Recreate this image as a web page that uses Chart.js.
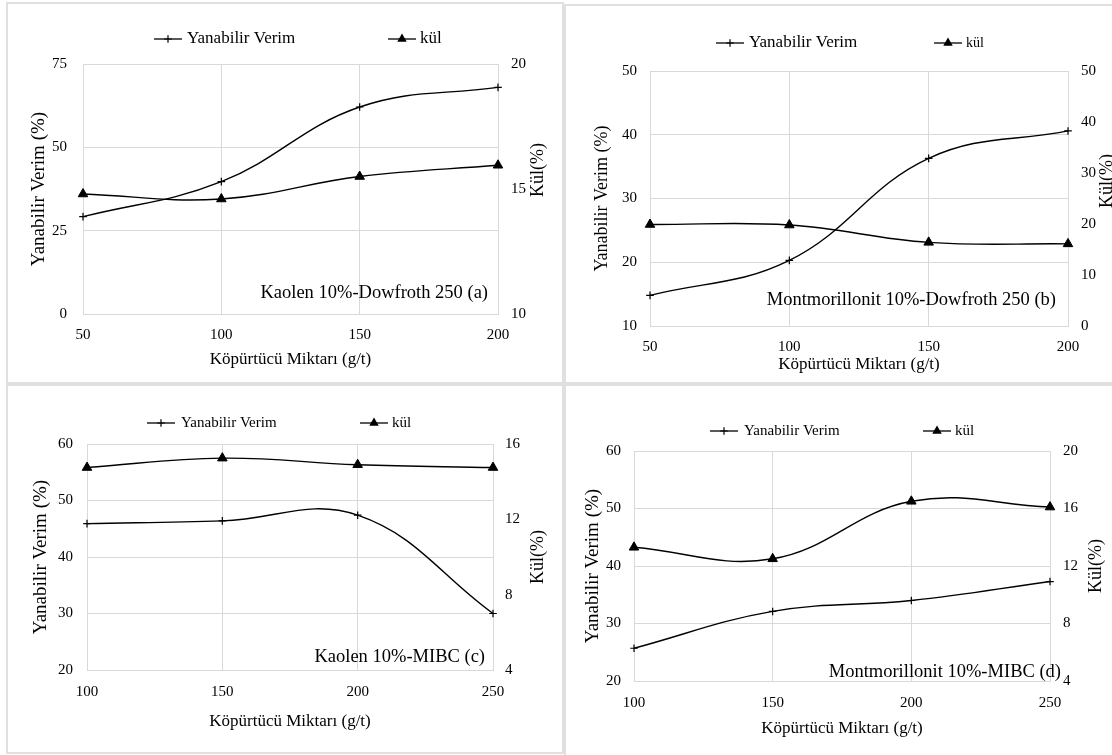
<!DOCTYPE html>
<html>
<head>
<meta charset="utf-8">
<script src="https://cdn.jsdelivr.net/npm/chart.js@4.4.1/dist/chart.umd.min.js"></script>
<style>
    html, body { margin: 0; padding: 0; background: #fff; }
    body { position: relative; width: 1112px; height: 755px; overflow: hidden; }
    .panel { position: absolute; box-sizing: border-box; border: 2px solid #e0e0e0; background: #fff; }
    canvas { position: absolute; display: block; }
</style>
</head>
<body>
<div class="panel" style="left:6px;top:2px;width:558px;height:382px"></div>
<div class="panel" style="left:564px;top:4px;width:560px;height:380px"></div>
<div class="panel" style="left:6px;top:384px;width:558px;height:370px"></div>
<div class="panel" style="left:564px;top:384px;width:560px;height:373px"></div>

<canvas id="chartA" width="554" height="378" style="left:8px;top:4px"></canvas>
<canvas id="chartB" width="560" height="376" style="left:566px;top:6px"></canvas>
<canvas id="chartC" width="554" height="366" style="left:8px;top:386px"></canvas>
<canvas id="chartD" width="560" height="368" style="left:566px;top:386px"></canvas>

<script>
// grafik verileri (okunan degerler)
const seriesLabels = ['Yanabilir Verim', 'kül'];
const xTitle = 'Köpürtücü Miktarı (g/t)';
const yTitle = 'Yanabilir Verim (%)';
const y2Title = 'Kül(%)';

// (a) Kaolen - Dowfroth 250
const dozA = [50, 100, 150, 200];
const verimA = [29.2, 39.7, 62.1, 68.0];
const kulA = [14.8, 14.6, 15.5, 15.95];
const verimTicksA = [0, 25, 50, 75];
const kulTicksA = [10, 15, 20];

// (b) Montmorillonit - Dowfroth 250
const dozB = [50, 100, 150, 200];
const verimB = [14.8, 20.3, 36.3, 40.6];
const kulB = [19.9, 19.8, 16.4, 16.1];
const verimTicksB = [10, 20, 30, 40, 50];
const kulTicksB = [0, 10, 20, 30, 40, 50];

// (c) Kaolen - MIBC
const dozC = [100, 150, 200, 250];
const verimC = [45.9, 46.4, 47.4, 30.0];
const kulC = [14.75, 15.25, 14.9, 14.75];
const verimTicksC = [20, 30, 40, 50, 60];
const kulTicksC = [4, 8, 12, 16];

// (d) Montmorillonit - MIBC
const dozD = [100, 150, 200, 250];
const verimD = [25.7, 32.1, 34.0, 37.3];
const kulD = [13.3, 12.5, 16.5, 16.1];
const verimTicksD = [20, 30, 40, 50, 60];
const kulTicksD = [4, 8, 12, 16, 20];

const notes = [
    'Kaolen 10%-Dowfroth 250 (a)',
    'Montmorillonit 10%-Dowfroth 250 (b)',
    'Kaolen 10%-MIBC (c)',
    'Montmorillonit 10%-MIBC (d)'
];

const FONT = '"Liberation Serif", "Times New Roman", serif';
const GRID = '#d9d9d9';

// draws the Excel style legend, the note in the plot and the right axis title
function drawMarker(ctx, style, x, y, r) {
    ctx.beginPath();
    if (style === 'cross') {
        ctx.moveTo(x - r, y); ctx.lineTo(x + r, y);
        ctx.moveTo(x, y - r); ctx.lineTo(x, y + r);
        ctx.stroke();
    } else {
        const h = r * Math.sqrt(3) / 2;
        ctx.moveTo(x, y - r);
        ctx.lineTo(x + h, y + r / 2);
        ctx.lineTo(x - h, y + r / 2);
        ctx.closePath();
        ctx.fill();
    }
}

const panelText = {
    id: 'panelText',
    afterDraw(chart, args, opts) {
        const ctx = chart.ctx;
        ctx.save();
        ctx.fillStyle = '#000';
        ctx.strokeStyle = '#000';
        ctx.textBaseline = 'middle';
        chart.data.datasets.forEach((ds, i) => {
            const it = opts.legend[i];
            const y = opts.legendY;
            ctx.lineWidth = 1.3;
            ctx.beginPath();
            ctx.moveTo(it.x, y);
            ctx.lineTo(it.x + 28, y);
            ctx.stroke();
            ctx.lineWidth = 1.2;
            drawMarker(ctx, ds.pointStyle, it.x + 14, y, ds.pointRadius);
            ctx.font = it.size + 'px ' + FONT;
            ctx.textAlign = 'left';
            ctx.fillText(ds.label, it.textX, y);
        });

        ctx.font = '18.5px ' + FONT;
        ctx.textAlign = 'right';
        ctx.fillText(opts.note.text, opts.note.x, opts.note.y);

        ctx.translate(opts.y2.x, opts.y2.y);
        ctx.rotate(-Math.PI / 2);
        ctx.textAlign = 'center';
        ctx.font = '18px ' + FONT;
        ctx.fillText(y2Title, 0, 0);
        ctx.restore();
    }
};

function points(xs, ys) {
    return xs.map((v, i) => ({ x: v, y: ys[i] }));
}

function useTicks(list) {
    return scale => { scale.ticks = list.map(v => ({ value: v })); };
}

function buildChart(id, xs, verim, kul, leftTicks, rightTicks, note, lay) {
    const tickFont = { family: FONT, size: 15 };
    return new Chart(document.getElementById(id), {
        type: 'line',
        data: {
            datasets: [{
                label: seriesLabels[0],
                data: points(xs, verim),
                yAxisID: 'y',
                borderColor: '#000',
                borderWidth: 1.4,
                pointStyle: 'cross',
                pointRadius: 3.8,
                pointBorderWidth: 1.2,
                pointBorderColor: '#000',
                tension: 0.4,
                clip: false
            }, {
                label: seriesLabels[1],
                data: points(xs, kul),
                yAxisID: 'y2',
                borderColor: '#000',
                borderWidth: 1.4,
                pointStyle: 'triangle',
                pointRadius: 5.5,
                pointBorderWidth: 1,
                pointBorderColor: '#000',
                pointBackgroundColor: '#000',
                tension: 0.4,
                clip: false
            }]
        },
        options: {
            responsive: false,
            animation: false,
            layout: { padding: { top: lay.padTop, bottom: lay.padBottom, left: 0, right: 0 } },
            plugins: {
                legend: { display: false },
                tooltip: { enabled: false },
                panelText: {
                    legendY: lay.legendY,
                    legend: lay.legend,
                    note: { text: note, x: lay.note.x, y: lay.note.y },
                    y2: lay.y2
                }
            },
            scales: {
                x: {
                    type: 'linear',
                    min: xs[0],
                    max: xs[xs.length - 1],
                    afterBuildTicks: useTicks(xs),
                    afterFit: s => { s.height = lay.xH; },
                    grid: { color: GRID, drawTicks: false },
                    border: { color: GRID },
                    ticks: { padding: lay.xTickPad, color: '#000', font: tickFont, autoSkip: false, maxRotation: 0 },
                    title: {
                        display: true, text: xTitle, color: '#000',
                        font: { family: FONT, size: 17 },
                        padding: { top: 0, bottom: lay.xTitlePad }
                    }
                },
                y: {
                    position: 'left',
                    min: leftTicks[0],
                    max: leftTicks[leftTicks.length - 1],
                    afterBuildTicks: useTicks(leftTicks),
                    afterFit: s => { s.width = lay.yW; },
                    grid: { color: GRID, drawTicks: false },
                    border: { color: GRID },
                    ticks: { padding: lay.yTickPad, color: '#000', font: tickFont },
                    title: {
                        display: true, text: yTitle, color: '#000',
                        font: { family: FONT, size: lay.yTitleSize },
                        padding: { top: lay.yTitlePad, bottom: 0 }
                    }
                },
                y2: {
                    position: 'right',
                    min: rightTicks[0],
                    max: rightTicks[rightTicks.length - 1],
                    afterBuildTicks: useTicks(rightTicks),
                    afterFit: s => { s.width = lay.y2W; },
                    grid: { display: false, drawTicks: false },
                    border: { color: GRID },
                    ticks: { padding: lay.y2TickPad, color: '#000', font: tickFont }
                }
            }
        },
        plugins: [panelText]
    });
}

// yerlesim: her panelin kenar bosluklari
const layoutA = {
    padTop: 60, padBottom: 10, yW: 75, y2W: 64, xH: 58,
    yTickPad: 16, y2TickPad: 13, xTickPad: 12, yTitlePad: 20, yTitleSize: 19, xTitlePad: 2,
    legendY: 35,
    legend: [{ x: 146, textX: 179, size: 17 }, { x: 380, textX: 412, size: 17 }],
    note: { x: 480, y: 289 },
    y2: { x: 530, y: 166 }
};
const layoutB = {
    padTop: 65, padBottom: 6, yW: 84, y2W: 58, xH: 50,
    yTickPad: 13, y2TickPad: 13, xTickPad: 12, yTitlePad: 25, yTitleSize: 18, xTitlePad: 1,
    legendY: 37,
    legend: [{ x: 150, textX: 183, size: 17 }, { x: 368, textX: 400, size: 14 }],
    note: { x: 490, y: 294 },
    y2: { x: 541, y: 175 }
};
const layoutC = {
    padTop: 58, padBottom: 20, yW: 79, y2W: 69, xH: 62,
    yTickPad: 14, y2TickPad: 12, xTickPad: 13, yTitlePad: 22, yTitleSize: 19, xTitlePad: 0,
    legendY: 37,
    legend: [{ x: 139, textX: 173, size: 15 }, { x: 352, textX: 384, size: 15 }],
    note: { x: 477, y: 271 },
    y2: { x: 530, y: 171 }
};
const layoutD = {
    padTop: 65, padBottom: 15, yW: 68, y2W: 76, xH: 58,
    yTickPad: 13, y2TickPad: 13, xTickPad: 13, yTitlePad: 16, yTitleSize: 19, xTitlePad: 0,
    legendY: 45,
    legend: [{ x: 144, textX: 178, size: 15 }, { x: 357, textX: 389, size: 15 }],
    note: { x: 495, y: 286 },
    y2: { x: 530, y: 180 }
};

buildChart('chartA', dozA, verimA, kulA, verimTicksA, kulTicksA, notes[0], layoutA);
buildChart('chartB', dozB, verimB, kulB, verimTicksB, kulTicksB, notes[1], layoutB);
buildChart('chartC', dozC, verimC, kulC, verimTicksC, kulTicksC, notes[2], layoutC);
buildChart('chartD', dozD, verimD, kulD, verimTicksD, kulTicksD, notes[3], layoutD);
</script>
</body>
</html>
